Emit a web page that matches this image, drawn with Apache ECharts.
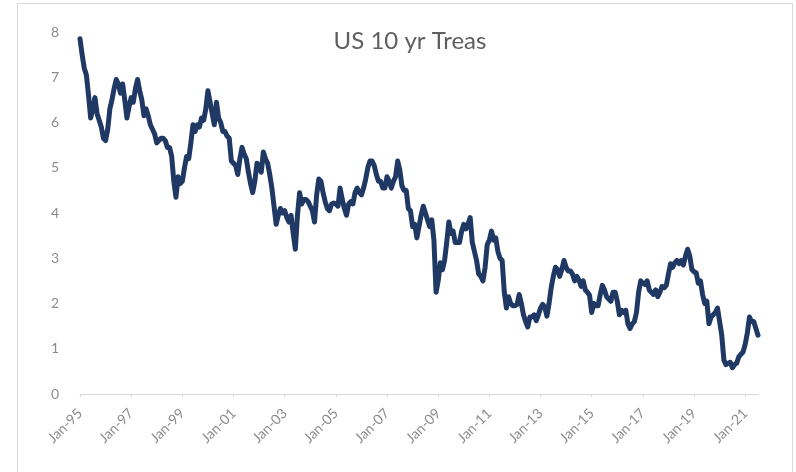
<!DOCTYPE html>
<html>
<head>
<meta charset="utf-8">
<script src="https://cdn.jsdelivr.net/npm/echarts@6/dist/echarts.min.js"></script>
<style>
  html, body { margin: 0; padding: 0; background: #fff; }
  #chart { width: 796px; height: 472px; }
</style>
</head>
<body>
<div id="chart"></div>
<script>
// US 10-year Treasury yield (%), monthly, Jan-1995 to Jul-2021
const y1995 = [7.85, 7.50, 7.20, 7.05, 6.60, 6.10, 6.30, 6.55, 6.20, 6.05, 5.90, 5.65];
const y1996 = [5.60, 5.85, 6.30, 6.50, 6.75, 6.95, 6.85, 6.65, 6.85, 6.50, 6.10, 6.35];
const y1997 = [6.55, 6.45, 6.75, 6.95, 6.70, 6.50, 6.15, 6.30, 6.15, 5.95, 5.85, 5.75];
const y1998 = [5.55, 5.60, 5.65, 5.65, 5.60, 5.45, 5.45, 5.25, 4.70, 4.35, 4.80, 4.65];
const y1999 = [4.70, 5.00, 5.25, 5.20, 5.55, 5.95, 5.80, 5.95, 5.90, 6.10, 6.05, 6.30];
const y2000 = [6.70, 6.45, 6.20, 5.95, 6.45, 6.10, 6.00, 5.80, 5.80, 5.70, 5.65, 5.15];
const y2001 = [5.10, 5.05, 4.85, 5.20, 5.45, 5.30, 5.20, 4.90, 4.65, 4.45, 4.70, 5.10];
const y2002 = [5.05, 4.90, 5.35, 5.20, 5.10, 4.85, 4.55, 4.15, 3.75, 3.95, 4.10, 4.00];
const y2003 = [4.05, 3.90, 3.80, 3.95, 3.55, 3.20, 3.95, 4.45, 4.20, 4.30, 4.30, 4.25];
const y2004 = [4.15, 4.05, 3.80, 4.40, 4.75, 4.70, 4.45, 4.25, 4.10, 4.05, 4.20, 4.22];
const y2005 = [4.20, 4.15, 4.55, 4.30, 4.10, 3.95, 4.20, 4.25, 4.20, 4.45, 4.55, 4.45];
const y2006 = [4.40, 4.55, 4.75, 5.00, 5.15, 5.15, 5.05, 4.85, 4.70, 4.70, 4.55, 4.55];
const y2007 = [4.80, 4.70, 4.55, 4.70, 4.80, 5.15, 4.95, 4.60, 4.50, 4.50, 4.10, 4.05];
const y2008 = [3.70, 3.75, 3.45, 3.70, 3.95, 4.15, 4.00, 3.85, 3.70, 3.85, 3.40, 2.25];
const y2009 = [2.50, 2.90, 2.75, 2.95, 3.35, 3.80, 3.55, 3.60, 3.35, 3.35, 3.35, 3.60];
const y2010 = [3.75, 3.65, 3.75, 3.90, 3.35, 3.15, 2.95, 2.65, 2.60, 2.50, 2.80, 3.30];
const y2011 = [3.40, 3.60, 3.40, 3.45, 3.15, 3.00, 2.95, 2.25, 1.90, 2.15, 2.00, 1.95];
const y2012 = [1.95, 1.98, 2.20, 2.00, 1.75, 1.60, 1.48, 1.70, 1.70, 1.75, 1.62, 1.75];
const y2013 = [1.90, 1.98, 1.92, 1.72, 2.00, 2.35, 2.60, 2.80, 2.75, 2.60, 2.75, 2.95];
const y2014 = [2.80, 2.72, 2.72, 2.65, 2.50, 2.60, 2.52, 2.38, 2.50, 2.30, 2.25, 2.18];
const y2015 = [1.80, 2.00, 1.95, 1.95, 2.20, 2.40, 2.30, 2.15, 2.10, 2.05, 2.25, 2.25];
const y2016 = [2.05, 1.75, 1.85, 1.80, 1.85, 1.55, 1.45, 1.55, 1.60, 1.80, 2.25, 2.50];
const y2017 = [2.45, 2.42, 2.50, 2.30, 2.25, 2.20, 2.30, 2.15, 2.25, 2.38, 2.35, 2.40];
const y2018 = [2.65, 2.88, 2.80, 2.90, 2.95, 2.88, 2.95, 2.85, 3.05, 3.20, 3.05, 2.75];
const y2019 = [2.70, 2.68, 2.45, 2.50, 2.20, 2.00, 2.05, 1.55, 1.70, 1.75, 1.80, 1.90];
const y2020 = [1.60, 1.30, 0.75, 0.65, 0.68, 0.70, 0.58, 0.65, 0.68, 0.82, 0.88, 0.93];
const y2021 = [1.10, 1.35, 1.70, 1.60, 1.60, 1.45, 1.30];

const yearBlocks = [y1995, y1996, y1997, y1998, y1999, y2000, y2001, y2002, y2003,
  y2004, y2005, y2006, y2007, y2008, y2009, y2010, y2011, y2012, y2013, y2014,
  y2015, y2016, y2017, y2018, y2019, y2020, y2021];
const firstYear = 1995;
const monthNames = ['Jan', 'Feb', 'Mar', 'Apr', 'May', 'Jun', 'Jul', 'Aug', 'Sep', 'Oct', 'Nov', 'Dec'];
const yTicks = [0, 1, 2, 3, 4, 5, 6, 7, 8];
const titleText = 'US 10 yr Treas';

const yields = [];
const months = [];
yearBlocks.forEach((block, i) => {
  const yy = String((firstYear + i) % 100).padStart(2, '0');
  block.forEach((v, m) => {
    yields.push(v);
    months.push(monthNames[m] + '-' + yy);
  });
});

const chart = echarts.init(document.getElementById('chart'), null, { renderer: 'canvas' });
chart.setOption({
  backgroundColor: '#ffffff',
  animation: false,
  graphic: [
    {
      type: 'rect',
      shape: { x: 17.5, y: 3.5, width: 775, height: 490 },
      style: { fill: 'none', stroke: '#d9d9d9', lineWidth: 1 },
      silent: true
    },
    {
      type: 'text',
      x: 410,
      y: 41,
      style: {
        text: titleText,
        fill: '#5f5f5f',
        font: '24px Lato',
        textAlign: 'center',
        textVerticalAlign: 'middle'
      }
    }
  ],
  grid: { left: 80, right: 38, top: 32, bottom: 78, containLabel: false },
  xAxis: {
    type: 'category',
    data: months,
    boundaryGap: false,
    axisLine: { lineStyle: { color: '#d9d9d9', width: 1 } },
    axisTick: { show: true, interval: 23, length: 3, lineStyle: { color: '#d9d9d9' } },
    axisLabel: {
      interval: 23,
      rotate: 45,
      margin: 17,
      color: '#8c8c8c',
      fontFamily: 'Lato',
      fontSize: 14
    },
    splitLine: { show: false }
  },
  yAxis: {
    type: 'value',
    min: yTicks[0],
    max: yTicks[yTicks.length - 1],
    interval: 1,
    axisLine: { show: false },
    axisTick: { show: false },
    splitLine: { show: false },
    axisLabel: { color: '#8c8c8c', fontFamily: 'Lato', fontSize: 14, margin: 21 }
  },
  series: [{
    type: 'line',
    data: yields,
    symbol: 'none',
    smooth: false,
    lineStyle: { color: '#1f3864', width: 5, join: 'round', cap: 'round' }
  }]
});
</script>
</body>
</html>
